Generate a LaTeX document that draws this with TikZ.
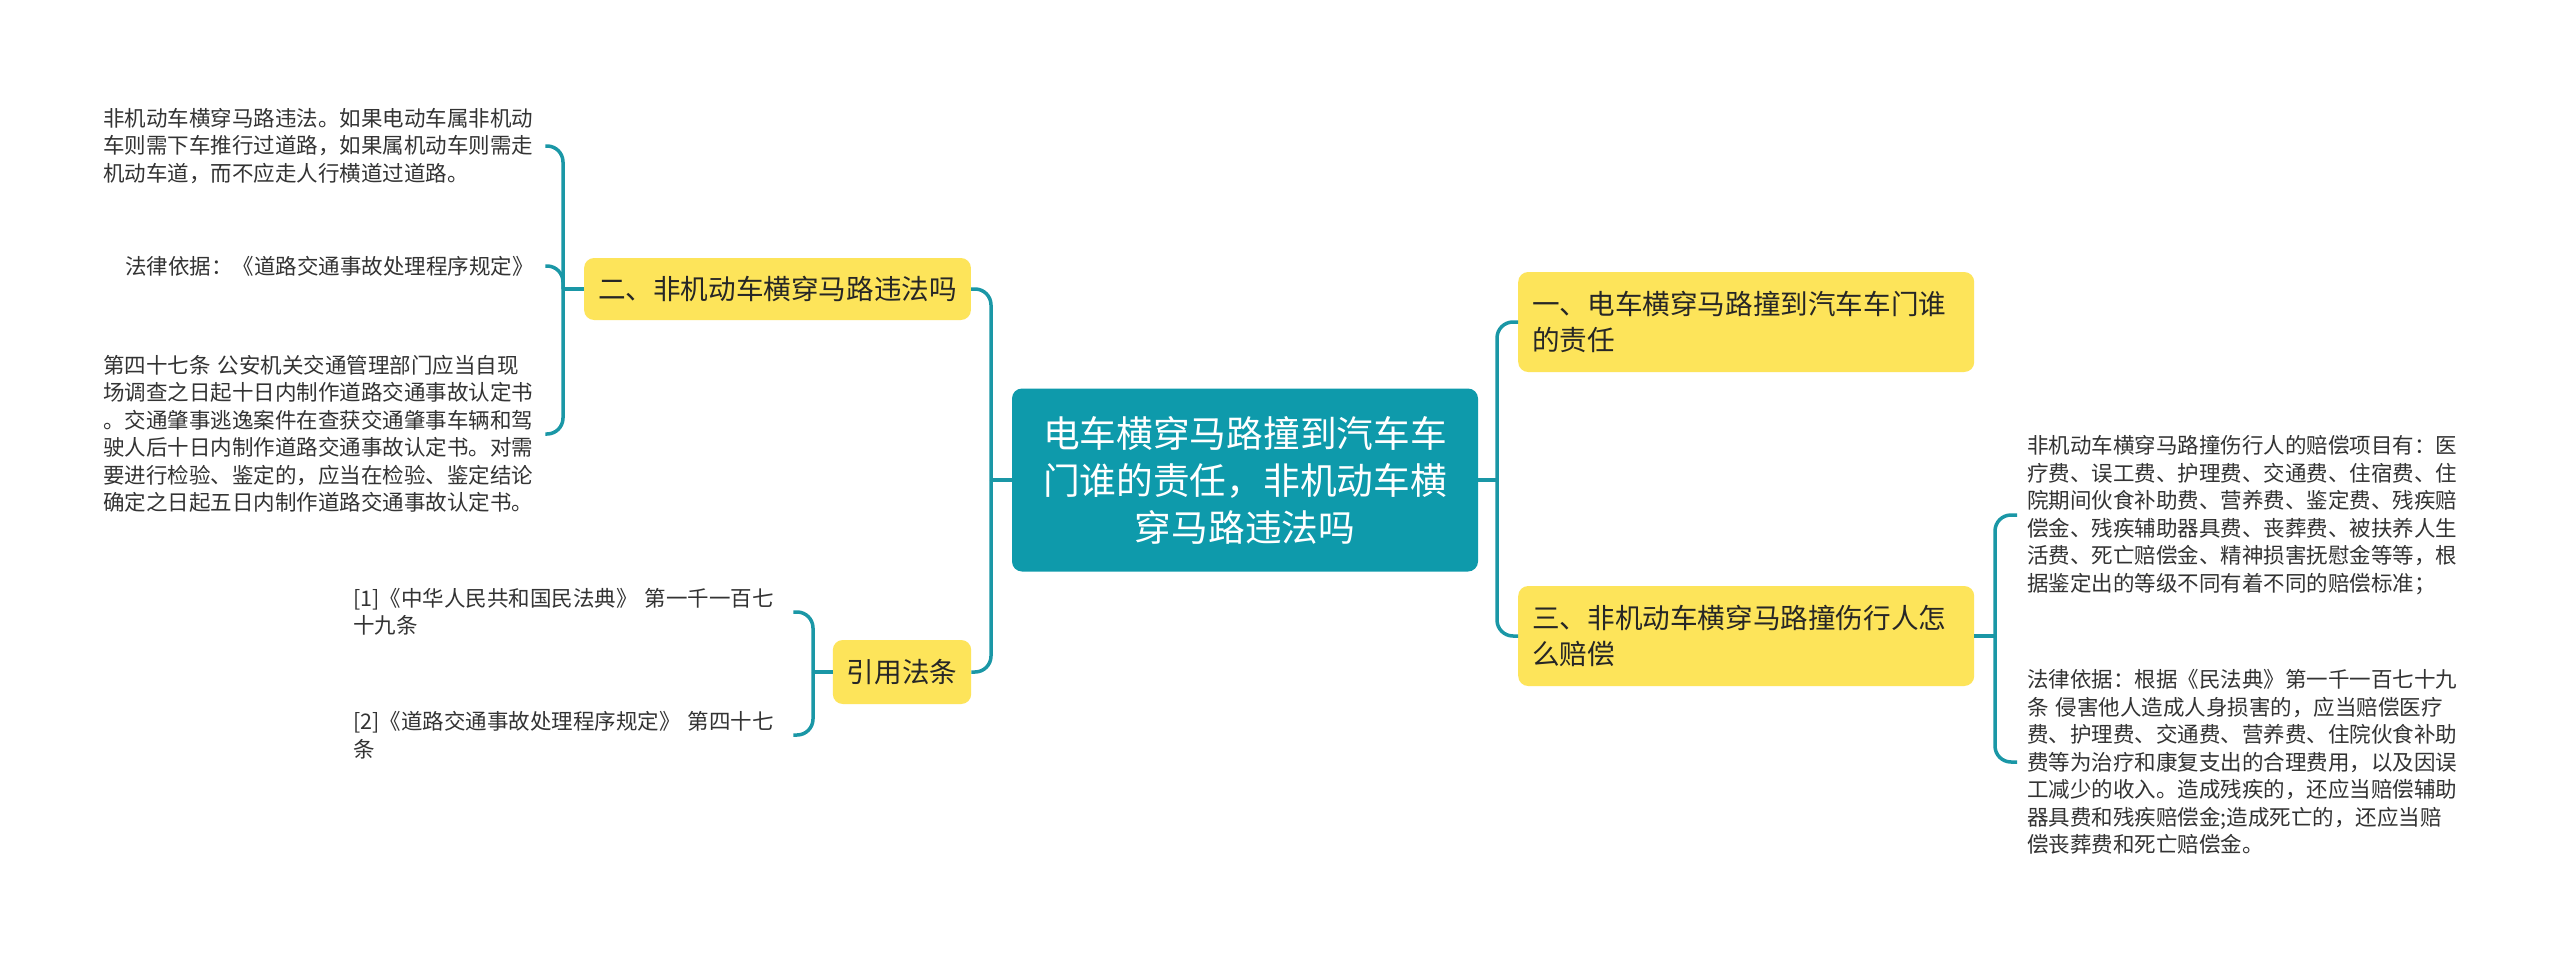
\documentclass[tikz,border=0pt]{standalone}
\usepackage{fontspec}
\setmainfont{Noto Sans CJK SC}
\definecolor{rootfill}{HTML}{0E9AAB}
\definecolor{linec}{HTML}{1A97A6}
\definecolor{yel}{HTML}{FDE45A}
\definecolor{txt}{HTML}{333333}
\begin{document}
\begin{tikzpicture}[x=1pt,y=-1pt,
  conn/.style={draw=linec, line width=3.5pt, rounded corners=16pt},
  topic/.style={fill=yel, rounded corners=10pt, text=black!85, font=\fontsize{27.6}{36}\selectfont, inner xsep=14pt, inner ysep=0pt},
  leaf/.style={inner sep=0pt, align=left, text=txt, font=\fontsize{21.5}{27.5}\selectfont, anchor=west},
  root/.style={fill=rootfill, rounded corners=10pt, text=white, font=\fontsize{36.7}{47}\selectfont, align=center, minimum width=466pt, minimum height=183pt, inner sep=0pt}]
\fill[white] (0,0) rectangle (2560,961);
\useasboundingbox (0,0) rectangle (2560,961);

\node[root] (root) at (1245,480) {电车横穿马路撞到汽车车\\门谁的责任，非机动车横\\穿马路违法吗};

\node[topic, minimum height=62pt] (b2) at (777.5,289) {二、非机动车横穿马路违法吗};
\node[topic, minimum height=64pt] (ref) at (902,672) {引用法条};
\node[topic, anchor=west, text width=428pt, align=left, minimum height=100pt] (b1) at (1518,322) {一、电车横穿马路撞到汽车车门谁\\的责任};
\node[topic, anchor=west, text width=428pt, align=left, minimum height=100pt] (b3) at (1518,636) {三、非机动车横穿马路撞伤行人怎\\么赔偿};

\node[leaf, text width=430pt] (l1) at (103,146) {非机动车横穿马路违法。如果电动车属非机动\\车则需下车推行过道路，如果属机动车则需走\\机动车道，而不应走人行横道过道路。};
\node[leaf, text width=408pt] (l2) at (125,266) {法律依据：《道路交通事故处理程序规定》};
\node[leaf, text width=430pt] (l3) at (103,434) {第四十七条 公安机关交通管理部门应当自现\\场调查之日起十日内制作道路交通事故认定书\\。交通肇事逃逸案件在查获交通肇事车辆和驾\\驶人后十日内制作道路交通事故认定书。对需\\要进行检验、鉴定的，应当在检验、鉴定结论\\确定之日起五日内制作道路交通事故认定书。};

\node[leaf, text width=440pt] (r1) at (353,612) {[1]《中华人民共和国民法典》~第一千一百七\\十九条};
\node[leaf, text width=440pt] (r2) at (353,735) {[2]《道路交通事故处理程序规定》~第四十七\\条};

\node[leaf, text width=432pt] (la) at (2027,515) {非机动车横穿马路撞伤行人的赔偿项目有：医\\疗费、误工费、护理费、交通费、住宿费、住\\院期间伙食补助费、营养费、鉴定费、残疾赔\\偿金、残疾辅助器具费、丧葬费、被扶养人生\\活费、死亡赔偿金、精神损害抚慰金等等，根\\据鉴定出的等级不同有着不同的赔偿标准；};
\node[leaf, text width=432pt] (lb) at (2027,762) {法律依据：根据《民法典》第一千一百七十九\\条 侵害他人造成人身损害的，应当赔偿医疗\\费、护理费、交通费、营养费、住院伙食补助\\费等为治疗和康复支出的合理费用，以及因误\\工减少的收入。造成残疾的，还应当赔偿辅助\\器具费和残疾赔偿金;造成死亡的，还应当赔\\偿丧葬费和死亡赔偿金。};

\coordinate (jL) at (991,480);
\draw[conn] (root.west) -- (jL);
\draw[conn] (jL) |- (b2.east);
\draw[conn] (jL) |- (ref.east);

\coordinate (jR) at (1497,480);
\draw[conn] (root.east) -- (jR);
\draw[conn] (jR) |- (b1.west);
\draw[conn] (jR) |- (b3.west);

\coordinate (j2) at (563,289);
\draw[conn] (b2.west) -- (j2);
\draw[conn] (j2) |- ([xshift=12pt]l1.east);
\draw[conn] (j2) |- ([xshift=12pt]l2.east);
\draw[conn] (j2) |- ([xshift=12pt]l3.east);

\coordinate (jF) at (813,672);
\draw[conn] (ref.west) -- (jF);
\draw[conn] (jF) |- (r1.east);
\draw[conn] (jF) |- (r2.east);

\coordinate (j3) at (1995,636);
\draw[conn] (b3.east) -- (j3);
\draw[conn] (j3) |- ([xshift=-10pt]la.west);
\draw[conn] (j3) |- ([xshift=-10pt]lb.west);
\end{tikzpicture}
\end{document}
